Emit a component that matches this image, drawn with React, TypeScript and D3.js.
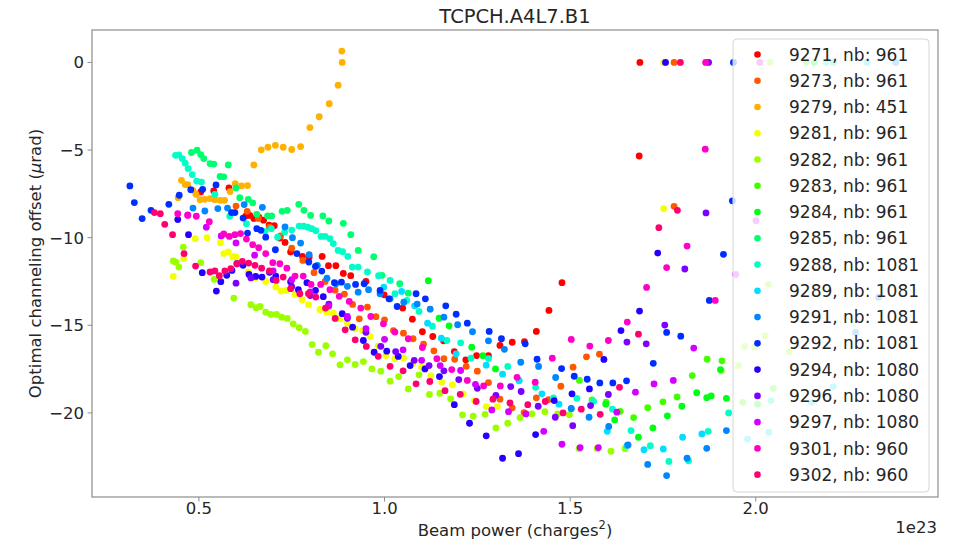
import React from "react";
import * as d3 from "d3";

type Pt = [number, number];

// x in units of 1e23 charges^2, y in µrad
const runs = ["9271", "9273", "9279", "9281", "9282", "9283", "9284", "9285", "9288", "9289", "9291", "9292", "9294", "9296", "9297", "9301", "9302"];
const bunches = [961, 961, 451, 961, 961, 961, 961, 961, 1081, 1081, 1081, 1081, 1080, 1080, 1080, 960, 960];

const s9271: Pt[] = [[0.505,-7.39],[0.54,-7.33],[0.581,-7.16],[0.626,-8.77],[0.637,-8.73],[0.648,-8.9],[0.662,-8.85],[0.674,-9.0],[0.689,-9.28],[0.703,-9.32],[0.718,-10.02],[0.732,-10.27],[0.747,-10.82],[0.779,-11.07],[0.797,-11.1],[0.832,-11.07],[0.849,-11.6],[0.869,-11.6],[0.889,-12.04],[0.909,-12.17],[0.95,-12.5],[0.999,-13.26],[1.049,-14.02],[1.075,-14.65],[1.102,-15.37],[1.13,-15.64],[1.159,-15.89],[1.188,-16.5],[1.219,-16.97],[1.248,-16.73],[1.28,-16.74],[1.311,-16.15],[1.344,-15.97],[1.377,-15.94],[1.409,-15.35],[1.443,-14.15],[1.478,-12.57],[1.686,-5.34],[1.688,0]];
const s9273: Pt[] = [[0.6,-8.2],[0.63,-8.5],[0.66,-8.9],[0.69,-9.4],[0.72,-9.9],[0.75,-10.6],[0.78,-11.3],[0.81,-12.0],[0.84,-12.5],[0.867,-13.0],[0.892,-13.22],[0.914,-13.81],[0.932,-14.63],[0.954,-13.96],[0.977,-14.51],[1.0,-14.69],[1.024,-15.3],[1.051,-15.45],[1.077,-15.77],[1.105,-16.08],[1.133,-16.46],[1.16,-16.91],[1.189,-16.94],[1.22,-17.34],[1.25,-17.62],[1.28,-18.27],[1.311,-19.22],[1.344,-19.71],[1.376,-19.98],[1.409,-19.14],[1.442,-19.24],[1.475,-18.48],[1.508,-17.39],[1.544,-16.8],[1.579,-16.65],[1.78,-8.21],[1.78,0]];
const s9279: Pt[] = [[0.444,-7.72],[0.453,-6.73],[0.463,-6.97],[0.47,-6.97],[0.484,-7.3],[0.492,-7.53],[0.503,-7.83],[0.516,-7.81],[0.53,-7.77],[0.543,-7.83],[0.557,-7.87],[0.569,-7.87],[0.584,-7.37],[0.598,-6.92],[0.615,-7.05],[0.631,-7.03],[0.648,-5.85],[0.668,-4.99],[0.686,-4.84],[0.706,-4.73],[0.727,-4.84],[0.75,-4.97],[0.774,-4.8],[0.799,-3.72],[0.824,-3.1],[0.851,-2.36],[0.875,-1.3],[0.886,0],[0.885,0.65]];
const s9281: Pt[] = [[0.431,-12.21],[0.459,-11.2],[0.49,-10.06],[0.522,-10.0],[0.558,-10.29],[0.567,-10.91],[0.579,-10.82],[0.591,-11.07],[0.6,-11.1],[0.632,-11.96],[0.653,-12.29],[0.68,-12.5],[0.707,-12.82],[0.721,-13.05],[0.736,-13.01],[0.759,-13.24],[0.778,-13.54],[0.795,-13.83],[0.826,-14.1],[0.844,-14.25],[0.862,-14.31],[0.88,-14.63],[0.9,-14.88],[0.921,-15.2],[0.941,-15.3],[0.961,-15.64],[0.983,-16.19],[1.004,-16.73],[1.028,-16.91],[1.051,-16.88],[1.076,-17.18],[1.1,-17.39],[1.125,-17.87],[1.154,-18.25],[1.183,-18.4],[1.212,-18.91],[1.242,-19.3],[1.274,-19.64],[1.304,-19.64],[1.752,-8.34],[1.752,0]];
const s9282: Pt[] = [[0.431,-11.33],[0.438,-11.4],[0.446,-11.68],[0.458,-10.54],[0.505,-11.43],[0.541,-12.38],[0.594,-13.45],[0.64,-13.83],[0.654,-14.0],[0.665,-13.93],[0.68,-14.25],[0.694,-14.38],[0.709,-14.38],[0.723,-14.54],[0.738,-14.61],[0.754,-14.92],[0.77,-15.14],[0.787,-15.35],[0.805,-16.1],[0.822,-16.54],[0.842,-16.17],[0.86,-16.63],[0.88,-17.26],[0.9,-16.97],[0.921,-17.24],[0.943,-17.07],[0.966,-17.49],[0.99,-17.62],[1.015,-18.19],[1.038,-17.93],[1.064,-18.63],[1.093,-17.83],[1.121,-18.95],[1.149,-18.88],[1.178,-19.2],[1.21,-20.11],[1.239,-20.19],[1.271,-20.08],[1.3,-20.86],[1.332,-20.59],[1.365,-20.27],[1.397,-20.06],[1.432,-19.93],[1.466,-20.06],[1.498,-20.1],[1.524,-22.04],[1.573,-22.04],[1.61,-22.19],[1.648,-22.04],[1.907,-17.6],[1.954,-17.3],[1.97,-16.2],[1.997,-16.25],[2.026,-15.6],[2.034,-12.67],[2.09,-16.5],[2.039,0]];
const s9283: Pt[] = [[1.525,-18.15],[1.559,-19.26],[1.597,-19.39],[1.635,-19.91],[1.671,-20.27],[1.709,-19.7],[1.75,-19.37],[1.788,-19.09],[1.829,-17.87],[1.869,-16.94],[1.909,-17.03],[1.965,-19.4],[2.047,-18.6],[2.136,0]];
const s9284: Pt[] = [[1.118,-12.46],[1.147,-14.6],[1.174,-15.03],[1.235,-16.25],[1.265,-16.74],[1.299,-17.49],[1.596,-19.5],[1.62,-20.4],[1.684,-21.39],[1.723,-20.86],[1.762,-20.17],[1.801,-19.62],[1.841,-18.85],[1.868,-19.13],[1.88,-19.03],[1.905,-17.53],[1.921,-19.17],[2.005,-19.5],[2.158,0]];
const s9285: Pt[] = [[0.48,-5.14],[0.495,-5.01],[0.505,-5.26],[0.513,-5.49],[0.53,-5.77],[0.54,-5.8],[0.557,-6.51],[0.567,-6.53],[0.579,-5.85],[0.6,-7.16],[0.61,-7.72],[0.633,-7.81],[0.645,-8.02],[0.656,-8.67],[0.685,-8.76],[0.696,-8.76],[0.724,-8.5],[0.738,-8.44],[0.769,-8.1],[0.783,-8.44],[0.801,-8.73],[0.834,-8.76],[0.85,-9.05],[0.889,-9.18],[0.909,-9.83],[0.929,-10.73],[0.971,-11.09],[0.993,-12.15],[1.041,-12.63],[1.064,-13.17],[2.209,0]];
const s9288: Pt[] = [[0.437,-5.3],[0.446,-5.28],[0.455,-5.49],[0.463,-5.75],[0.471,-6.06],[0.482,-6.4],[0.494,-6.77],[0.507,-6.83],[0.543,-7.53],[0.583,-8.78],[0.628,-9.2],[0.678,-9.64],[0.695,-9.49],[0.712,-9.97],[0.731,-9.68],[0.75,-9.57],[0.77,-9.34],[0.782,-9.34],[0.793,-9.4],[0.804,-9.49],[0.815,-9.6],[0.829,-9.93],[0.84,-9.93],[0.853,-10.06],[0.862,-10.34],[0.875,-10.73],[0.887,-10.8],[0.901,-11.07],[0.913,-11.68],[0.929,-11.68],[0.954,-11.96],[0.984,-12.17],[1.015,-12.44],[1.028,-13.2],[1.06,-13.58],[1.093,-14.21],[1.129,-15.05],[1.168,-15.87],[1.205,-16.0],[1.233,-16.88],[1.28,-16.9],[1.332,-17.35],[1.363,-18.17],[1.407,-18.54],[1.455,-19.14],[1.518,-19.17],[1.563,-19.34],[1.614,-19.79],[1.664,-21.01],[1.716,-21.87],[1.766,-22.77],[1.819,-22.73],[1.872,-21.05],[1.927,-20.0],[2.041,-19.3],[2.19,0]];
const s9289: Pt[] = [[0.998,-12.82],[1.046,-13.07],[1.081,-13.89],[1.116,-14.88],[1.153,-15.74],[1.193,-16.63],[1.274,-17.28],[1.318,-17.79],[1.362,-18.15],[1.424,-18.91],[1.47,-19.5],[1.503,-19.77],[1.6,-21.05],[1.653,-21.87],[1.699,-22.1],[1.751,-22.06],[1.803,-21.39],[1.855,-21.2],[1.978,-21.5],[2.035,-21.1],[2.15,-19.4],[2.209,-18.5],[2.3,0]];
const s9291: Pt[] = [[0.484,-8.31],[0.516,-8.48],[0.551,-8.34],[0.577,-8.31],[0.622,-8.11],[0.671,-8.27],[0.732,-9.39],[0.752,-10.0],[0.774,-10.31],[0.797,-10.97],[0.819,-11.58],[0.845,-12.31],[0.869,-12.63],[0.9,-12.78],[0.929,-13.11],[0.957,-12.97],[0.988,-13.2],[1.015,-13.49],[1.052,-13.68],[1.088,-13.79],[1.123,-14.08],[1.16,-14.54],[1.197,-14.97],[1.237,-15.37],[1.28,-15.89],[1.323,-16.37],[1.367,-17.11],[1.415,-17.35],[1.461,-17.98],[1.503,-19.75],[1.551,-20.25],[1.604,-20.77],[1.656,-21.83],[1.709,-22.94],[1.76,-23.58],[1.815,-22.59],[1.868,-22.02],[1.921,-21.01],[2.269,-15.4],[2.331,-13.4],[2.377,0]];
const s9292: Pt[] = [[0.314,-7.05],[0.326,-8.0],[0.347,-8.91],[0.371,-8.44],[0.419,-8.1],[0.447,-7.58],[0.478,-7.26],[0.51,-7.24],[0.546,-6.99],[0.588,-8.57],[0.597,-8.57],[0.619,-8.88],[0.631,-9.74],[0.656,-9.49],[0.667,-9.58],[0.68,-9.97],[0.706,-10.69],[0.764,-10.91],[0.796,-11.39],[0.814,-11.64],[0.831,-11.91],[0.865,-12.57],[0.884,-12.54],[0.922,-12.67],[0.945,-12.63],[0.988,-13.01],[1.012,-13.49],[1.034,-13.93],[1.085,-13.2],[1.11,-13.49],[1.165,-13.89],[1.193,-14.37],[1.223,-14.88],[1.282,-15.35],[1.315,-15.77],[1.379,-16.06],[1.411,-16.94],[1.477,-17.47],[1.511,-17.91],[1.546,-18.08],[1.58,-18.29],[1.615,-18.29],[1.652,-18.17],[1.724,-17.17],[1.76,-15.41],[1.798,-15.62],[1.875,-13.58],[1.913,-10.95],[1.937,-7.9],[1.94,0]];
const s9294: Pt[] = [[0.443,-8.97],[0.472,-9.83],[0.509,-12.0],[0.547,-13.05],[0.559,-12.51],[0.575,-12.15],[0.589,-11.87],[0.603,-11.49],[0.619,-11.58],[0.635,-12.1],[0.653,-12.21],[0.67,-12.25],[0.69,-11.98],[0.707,-12.19],[0.747,-12.51],[0.768,-12.97],[0.791,-12.57],[0.814,-13.01],[0.835,-13.37],[0.886,-14.34],[0.914,-15.11],[0.943,-15.87],[0.972,-16.54],[1.006,-16.48],[1.037,-16.78],[1.069,-17.3],[1.109,-17.49],[1.148,-17.93],[1.188,-19.53],[1.229,-20.59],[1.274,-21.31],[1.318,-22.59],[1.361,-22.33],[1.407,-21.24],[1.457,-19.3],[1.505,-18.91],[1.552,-18.63],[1.591,-16.95],[1.637,-15.3],[1.687,-14.19],[1.736,-10.88],[1.757,0]];
const s9296: Pt[] = [[0.6,-12.6],[0.64,-12.3],[0.7,-12.4],[0.75,-12.8],[0.8,-13.3],[0.85,-13.8],[0.9,-14.6],[0.95,-15.4],[0.99,-16.2],[1.03,-16.5],[1.08,-17.0],[1.12,-17.3],[1.16,-17.6],[1.2,-18.1],[1.25,-18.6],[1.3,-19.0],[1.34,-18.5],[1.368,-18.78],[1.414,-19.62],[1.46,-20.25],[1.507,-20.73],[1.555,-19.58],[1.603,-18.95],[1.653,-15.96],[1.705,-16.06],[1.755,-14.99],[1.809,-11.79],[1.866,-8.59],[1.873,0]];
const s9297: Pt[] = [[0.47,-8.7],[0.52,-9.4],[0.56,-9.9],[0.6,-10.3],[0.65,-11.0],[0.7,-11.9],[0.75,-12.4],[0.8,-13.1],[0.85,-13.9],[0.9,-14.5],[0.95,-15.2],[1.0,-15.8],[1.05,-16.4],[1.1,-17.0],[1.15,-17.3],[1.205,-17.58],[1.245,-18.37],[1.289,-19.83],[1.334,-19.93],[1.381,-20.06],[1.429,-21.05],[1.478,-21.79],[1.527,-21.98],[1.576,-21.98],[1.626,-19.96],[1.676,-18.82],[1.726,-18.35],[1.778,-18.15],[1.833,-16.3],[1.946,-12.1],[2.001,-9.03],[2.011,0]];
const s9301: Pt[] = [[0.443,-8.63],[0.47,-8.73],[0.493,-8.78],[0.528,-9.09],[0.567,-9.79],[0.582,-9.93],[0.597,-9.83],[0.612,-9.77],[0.628,-10.08],[0.645,-10.4],[0.661,-10.57],[0.68,-10.91],[0.699,-11.43],[0.718,-11.49],[0.737,-11.74],[0.759,-12.19],[0.781,-12.19],[0.802,-12.67],[0.828,-12.67],[0.853,-12.97],[0.878,-13.35],[0.905,-13.64],[0.936,-14.02],[0.963,-14.5],[0.997,-14.92],[1.028,-15.39],[1.064,-15.77],[1.102,-16.27],[1.141,-16.91],[1.181,-17.53],[1.223,-18.15],[1.267,-18.46],[1.312,-18.46],[1.357,-17.97],[1.406,-18.25],[1.452,-16.88],[1.503,-15.81],[1.553,-16.19],[1.603,-15.87],[1.654,-14.82],[1.706,-12.84],[1.76,-11.71],[1.815,-10.48],[1.891,-13.58],[1.864,-4.95],[1.865,0]];
const s9302: Pt[] = [[0.38,-8.57],[0.396,-8.63],[0.408,-9.24],[0.429,-9.83],[0.46,-10.91],[0.491,-11.62],[0.53,-11.96],[0.543,-11.9],[0.555,-12.17],[0.57,-11.9],[0.586,-11.77],[0.602,-11.49],[0.617,-11.35],[0.634,-11.45],[0.651,-11.58],[0.669,-11.74],[0.69,-11.9],[0.708,-12.44],[0.727,-12.25],[0.747,-12.91],[0.772,-13.2],[0.795,-13.2],[0.815,-13.39],[0.841,-14.02],[0.867,-14.61],[0.894,-15.26],[0.921,-15.83],[0.951,-16.21],[0.983,-16.77],[1.015,-17.34],[1.05,-17.6],[1.085,-18.34],[1.122,-18.21],[1.163,-18.73],[1.204,-18.94],[1.247,-19.35],[1.292,-19.22],[1.338,-19.43],[1.386,-19.53],[1.433,-19.35],[1.481,-20.0],[1.53,-19.79],[1.581,-20.08],[1.633,-18.54],[1.684,-15.51],[1.739,-9.43],[1.789,-8.44],[1.797,0]];

const seriesPoints = [s9271, s9273, s9279, s9281, s9282, s9283, s9284, s9285, s9288, s9289, s9291, s9292, s9294, s9296, s9297, s9301, s9302];

const xTicks = [0.5, 1.0, 1.5, 2.0];
const yTicks = [0, -5, -10, -15, -20];

// matplotlib "hsv" colormap segments
const segR = [[0, 1], [0.15873, 1], [0.174603, 0.96875], [0.333333, 0.03125], [0.349206, 0], [0.666667, 0], [0.68254, 0], [0.84127, 0.9375], [0.857143, 1], [1, 1]];
const segG = [[0, 0], [0.15873, 0.9375], [0.174603, 1], [0.507937, 1], [0.666667, 0.0625], [0.68254, 0], [1, 0]];
const segB = [[0, 0], [0.333333, 0], [0.349206, 0.0625], [0.507937, 1], [0.84127, 1], [0.857143, 0.9375], [1, 0.09375]];
const seg = (s: number[][]) => d3.scaleLinear().domain(s.map((d) => d[0])).range(s.map((d) => d[1]));
const fr = seg(segR), fg = seg(segG), fb = seg(segB);
const hsvColor = (t: number) => d3.rgb(fr(t) * 255, fg(t) * 255, fb(t) * 255).formatHex();

const W = 954, H = 544;
const FONT = "DejaVu Sans, sans-serif";

export default function App() {
  const left = 92, right = 938, top = 30, bottom = 497;
  const x = d3.scaleLinear().domain([0.212, 2.491]).range([left, right]);
  const y = d3.scaleLinear().domain([-24.8, 1.85]).range([bottom, top]);
  const colors = runs.map((_, i) => hsvColor(i / runs.length));

  const legX = 733, legY = 39, legW = 196, legH = 453;
  const rowH = 26.26;

  return (
    <div style={{ position: "absolute", left: 0, top: 0 }}>
      <svg width={W} height={H} style={{ display: "block", background: "white" }} fontFamily={FONT}>
        {/* points */}
        {seriesPoints.map((pts, i) => (
          <g key={runs[i]} fill={colors[i]}>
            {pts.map((p, j) => (
              <circle key={j} cx={x(p[0])} cy={y(p[1])} r={3.4} />
            ))}
          </g>
        ))}

        {/* frame */}
        <rect x={left} y={top} width={right - left} height={bottom - top} fill="none" stroke="#8c8c8c" strokeWidth={1.2} />

        {/* x axis */}
        {xTicks.map((t) => (
          <g key={t} transform={`translate(${x(t)},${bottom})`}>
            <line y2={4.5} stroke="#8c8c8c" strokeWidth={1} />
            <text y={17} textAnchor="middle" fontSize={16.5} fill="#262626">{t.toFixed(1)}</text>
          </g>
        ))}
        {/* y axis */}
        {yTicks.map((t) => (
          <g key={t} transform={`translate(${left},${y(t)})`}>
            <line x2={-4.5} stroke="#8c8c8c" strokeWidth={1} />
            <text x={-8} dy="0.36em" textAnchor="end" fontSize={16.5} fill="#262626">
              {t < 0 ? "\u2212" + Math.abs(t) : String(t)}
            </text>
          </g>
        ))}

        <text x={(left + right) / 2} y={536} textAnchor="middle" fontSize={16.5} fill="#262626">
          Beam power (charges<tspan dy={-7} fontSize={11.5}>2</tspan><tspan dy={7}>)</tspan>
        </text>
        <text x={937} y={533} textAnchor="end" fontSize={16.5} fill="#262626">1e23</text>
        <text transform={`translate(41,${(top + bottom) / 2}) rotate(-90)`} textAnchor="middle" fontSize={16.5} fill="#262626">
          Optimal channeling offset (<tspan fontStyle="italic">μ</tspan>rad)
        </text>
        <text x={(left + right) / 2} y={23} textAnchor="middle" fontSize={19.5} fill="#262626">TCPCH.A4L7.B1</text>

        {/* legend */}
        <rect x={legX} y={legY} width={legW} height={legH} rx={4} fill="white" fillOpacity={0.8} stroke="#d6d6d6" strokeWidth={1} />
        {runs.map((r, i) => (
          <g key={r} transform={`translate(0,${legY + 15.5 + i * rowH})`}>
            <circle cx={757.5} cy={0} r={3.3} fill={colors[i]} />
            <text x={789} dy="0.36em" fontSize={17} fill="#262626">{`${r}, nb: ${bunches[i]}`}</text>
          </g>
        ))}
      </svg>
    </div>
  );
}
